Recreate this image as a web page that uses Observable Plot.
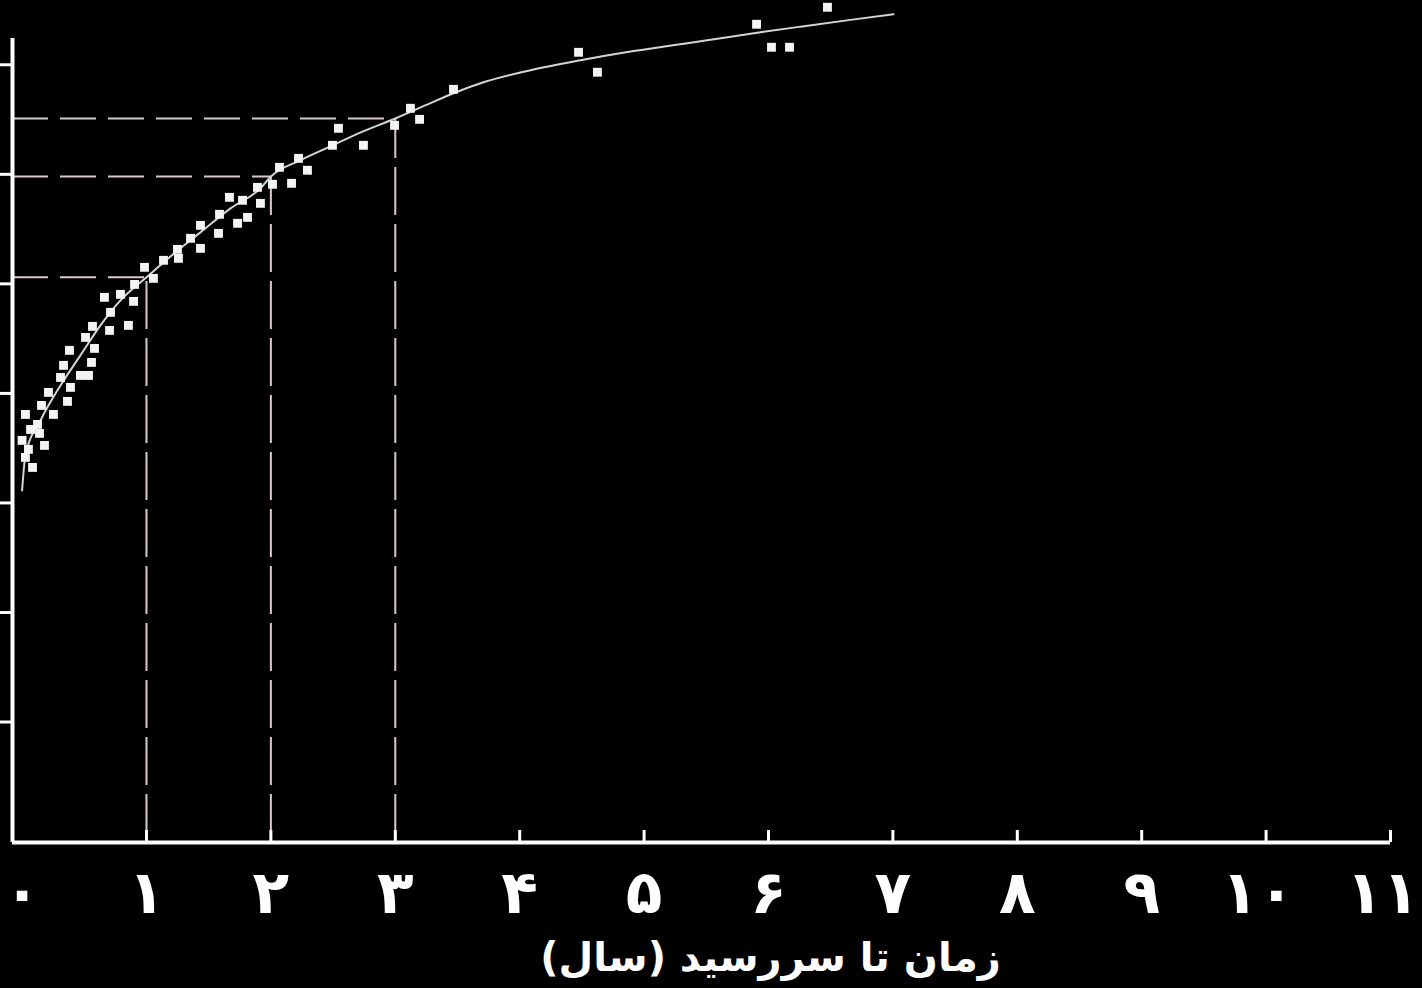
<!DOCTYPE html>
<html>
<head>
<meta charset="utf-8">
<script src="https://cdn.jsdelivr.net/npm/d3@7"></script>
<script src="https://cdn.jsdelivr.net/npm/@observablehq/plot@0.6"></script>
<style>
  html, body { margin: 0; padding: 0; background: #000; }
  #chart svg { display: block; background: #000; overflow: visible; }
</style>
</head>
<body>
<div id="chart"></div>
<script>
// ---- data ----
const pointX = [0.084,0.027,0.051,0.180,0.0,0.140,0.068,0.124,0.027,0.252,0.156,0.365,0.212,0.389,0.309,0.469,0.534,0.333,0.558,0.381,0.582,0.510,0.703,0.566,0.855,0.711,0.896,0.662,0.791,0.904,1.056,0.984,1.137,1.257,1.249,1.434,1.354,1.579,1.434,1.732,1.812,1.587,1.916,1.772,1.667,1.892,2.013,2.166,2.294,2.069,2.222,2.495,2.744,2.543,2.994,3.195,3.122,3.468,4.473,4.625,5.904,6.024,6.169,6.474];
const pointY = [3.324,3.416,3.489,3.525,3.571,3.635,3.671,3.717,3.808,3.808,3.890,3.927,4.009,4.055,4.146,4.164,4.164,4.256,4.283,4.393,4.411,4.511,4.575,4.612,4.621,4.740,4.840,4.877,4.904,4.995,5.050,5.151,5.215,5.233,5.315,5.324,5.416,5.461,5.534,5.553,5.607,5.635,5.735,5.763,5.790,5.881,5.909,5.918,6.037,6.064,6.146,6.265,6.265,6.420,6.447,6.502,6.603,6.776,7.114,6.932,7.370,7.160,7.160,7.525];

const curveX = [0,0.027,0.148,0.309,0.469,0.630,0.791,1.0,1.233,1.434,1.675,1.916,2.0,2.235,2.479,2.728,3.0,3.283,3.468,3.709,4.087,4.489,4.915,5.453,5.936,6.257,6.659,7.005];
const curveY = [3.114,3.434,3.753,4.073,4.347,4.621,4.849,5.060,5.288,5.470,5.689,5.872,5.980,6.128,6.256,6.385,6.510,6.650,6.740,6.840,6.950,7.041,7.125,7.215,7.297,7.348,7.410,7.461];

const guideX = [1, 2, 3];
const guideY = [5.06, 5.98, 6.51];

const xTickValues = [0,1,2,3,4,5,6,7,8,9,10,11];
const xTickLabels = ["۰","۱","۲","۳","۴","۵","۶","۷","۸","۹","۱۰","۱۱"];
const yTickValues = [1,2,3,4,5,6,7];
const xLabel = "زمان تا سررسید (سال)";

// ---- layout ----
const W = 1422, H = 988;
const mL = 12, mR = 32, mT = 38, mB = 146;
const xMin = -0.077, xMax = 11.0;
const yMin = -0.1, yMax = 7.24;
const frameH = H - mT - mB;

const points = pointX.map((x, i) => ({x, y: pointY[i]}));
const curve = curveX.map((x, i) => ({x, y: curveY[i]}));
const guides = guideX.map((x, i) => ({x, y: guideY[i]}));

const guideColor = "#dcc8c8";

const chart = Plot.plot({
  width: W,
  height: H,
  marginLeft: mL,
  marginRight: mR,
  marginTop: mT,
  marginBottom: mB,
  style: {background: "#000", color: "#fff", overflow: "visible"},
  x: {domain: [xMin, xMax], label: null},
  y: {domain: [yMin, yMax], label: null},
  marks: [
    // dashed guide lines
    Plot.ruleY(guides, {y: "y", x1: xMin, x2: "x", stroke: guideColor, strokeWidth: 2, strokeDasharray: "36,12"}),
    Plot.ruleX(guides, {x: "x", y1: yMin, y2: "y", stroke: guideColor, strokeWidth: 2, strokeDasharray: "48,9"}),
    // fitted curve
    Plot.line(curve, {x: "x", y: "y", stroke: "#cfd9d1", strokeWidth: 2, curve: "monotone-x"}),
    // observations
    Plot.dot(points, {x: "x", y: "y", symbol: "square", r: 5, fill: "#f4f4f4", stroke: "none"}),
    // axis lines
    Plot.ruleY([yMin], {stroke: "#fff", strokeWidth: 4}),
    Plot.ruleX([xMin], {stroke: "#fff", strokeWidth: 4}),
    // x ticks (inward)
    Plot.ruleX(xTickValues.filter(d => d > 0), {stroke: "#fff", strokeWidth: 3, insetTop: frameH - 12}),
    // y ticks (outward, no labels)
    Plot.axisY({ticks: yTickValues, tickSize: 12, tickFormat: () => "", stroke: "#fff", strokeWidth: 3, label: null}),
    // x tick labels
    Plot.axisX({ticks: xTickValues, tickSize: 0, tickPadding: 28, tickFormat: d => xTickLabels[xTickValues.indexOf(d)],
      fontSize: 60, fontWeight: "bold", fill: "#fff", fontFamily: "DejaVu Sans", label: null}),
    // x axis title
    Plot.text([xLabel], {text: d => d, frameAnchor: "bottom", dx: 69, dy: 116, lineAnchor: "middle",
      fontSize: 40, fontWeight: "bold", fill: "#fff", fontFamily: "DejaVu Sans"})
  ]
});

d3.select(chart).selectAll("text").filter(function() { return this.textContent === xLabel; })
  .attr("direction", "rtl").style("direction", "rtl");
// tighten the two-digit tick labels so they stay inside the picture
d3.select(chart).selectAll("text").filter(function() {
  return xTickLabels.indexOf(this.textContent) >= 10;
}).attr("letter-spacing", "-16").attr("dx", "-8");

document.getElementById("chart").appendChild(chart);
</script>
</body>
</html>
